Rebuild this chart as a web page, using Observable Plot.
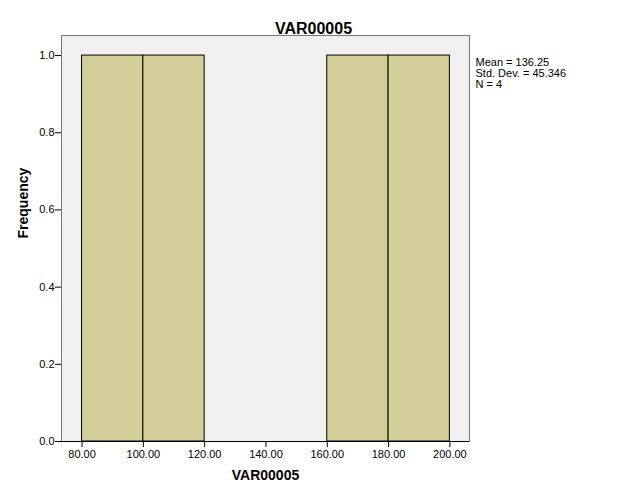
<!DOCTYPE html>
<html>
<head>
<meta charset="utf-8">
<script src="https://cdn.jsdelivr.net/npm/d3@7"></script>
<script src="https://cdn.jsdelivr.net/npm/@observablehq/plot@0.6"></script>
<style>
  html, body { margin: 0; padding: 0; background: #fff; }
  #chart svg { font-family: Arial, "Liberation Sans", sans-serif; display: block; }
</style>
</head>
<body>
<div id="chart"></div>
<script>
const title = "VAR00005";
const xLabel = "VAR00005";
const yLabel = "Frequency";
const binStarts = [80, 100, 160, 180];
const binEnds = [100, 120, 180, 200];
const frequencies = [1, 1, 1, 1];
const xTicks = [80, 100, 120, 140, 160, 180, 200];
const yTicks = [0, 0.2, 0.4, 0.6, 0.8, 1.0];
const statsLines = ["Mean = 136.25", "Std. Dev. = 45.346", "N = 4"];

const bins = binStarts.map((s, i) => ({x1: s, x2: binEnds[i], y: frequencies[i]}));

const chart = Plot.plot({
  width: 626,
  height: 501,
  marginLeft: 61,
  marginRight: 157,
  marginTop: 35,
  marginBottom: 60,
  style: {fontFamily: 'Arial, "Liberation Sans", sans-serif', fontSize: "11px", background: "#fff", color: "#000"},
  x: {domain: [73.3, 206.4], label: null},
  y: {domain: [0, 1.052], label: null},
  marks: [
    Plot.frame({fill: "#f0f0f0", stroke: "#777"}),
    Plot.rectY(bins, {x1: "x1", x2: "x2", y: "y", fill: "#d3ce97", stroke: "#000", strokeWidth: 1}),
    Plot.ruleY([0], {stroke: "#000"}),
    Plot.axisX({ticks: xTicks, tickFormat: d3.format(".2f"), tickSize: 6, tickPadding: 3, label: null, fontSize: 11, color: "#000"}),
    Plot.axisY({ticks: yTicks, tickFormat: d3.format(".1f"), tickSize: 6, tickPadding: 1, label: null, fontSize: 11, color: "#000"}),
    Plot.text([title], {frameAnchor: "top", dx: 48, dy: -13, fontSize: 16, fontWeight: "bold", fill: "#000"}),
    Plot.text([xLabel], {frameAnchor: "bottom", dy: 38, fontSize: 14, fontWeight: "bold", fill: "#000"}),
    Plot.text([yLabel], {frameAnchor: "left", dx: -38, rotate: -90, fontSize: 14, fontWeight: "bold", fill: "#000"}),
    Plot.text([statsLines.join("\n")], {frameAnchor: "top-right", dx: 6, dy: 38, textAnchor: "start", lineAnchor: "middle", lineHeight: 1, fontSize: 11, fill: "#000"})
  ]
});
document.getElementById("chart").appendChild(chart);
</script>
</body>
</html>
